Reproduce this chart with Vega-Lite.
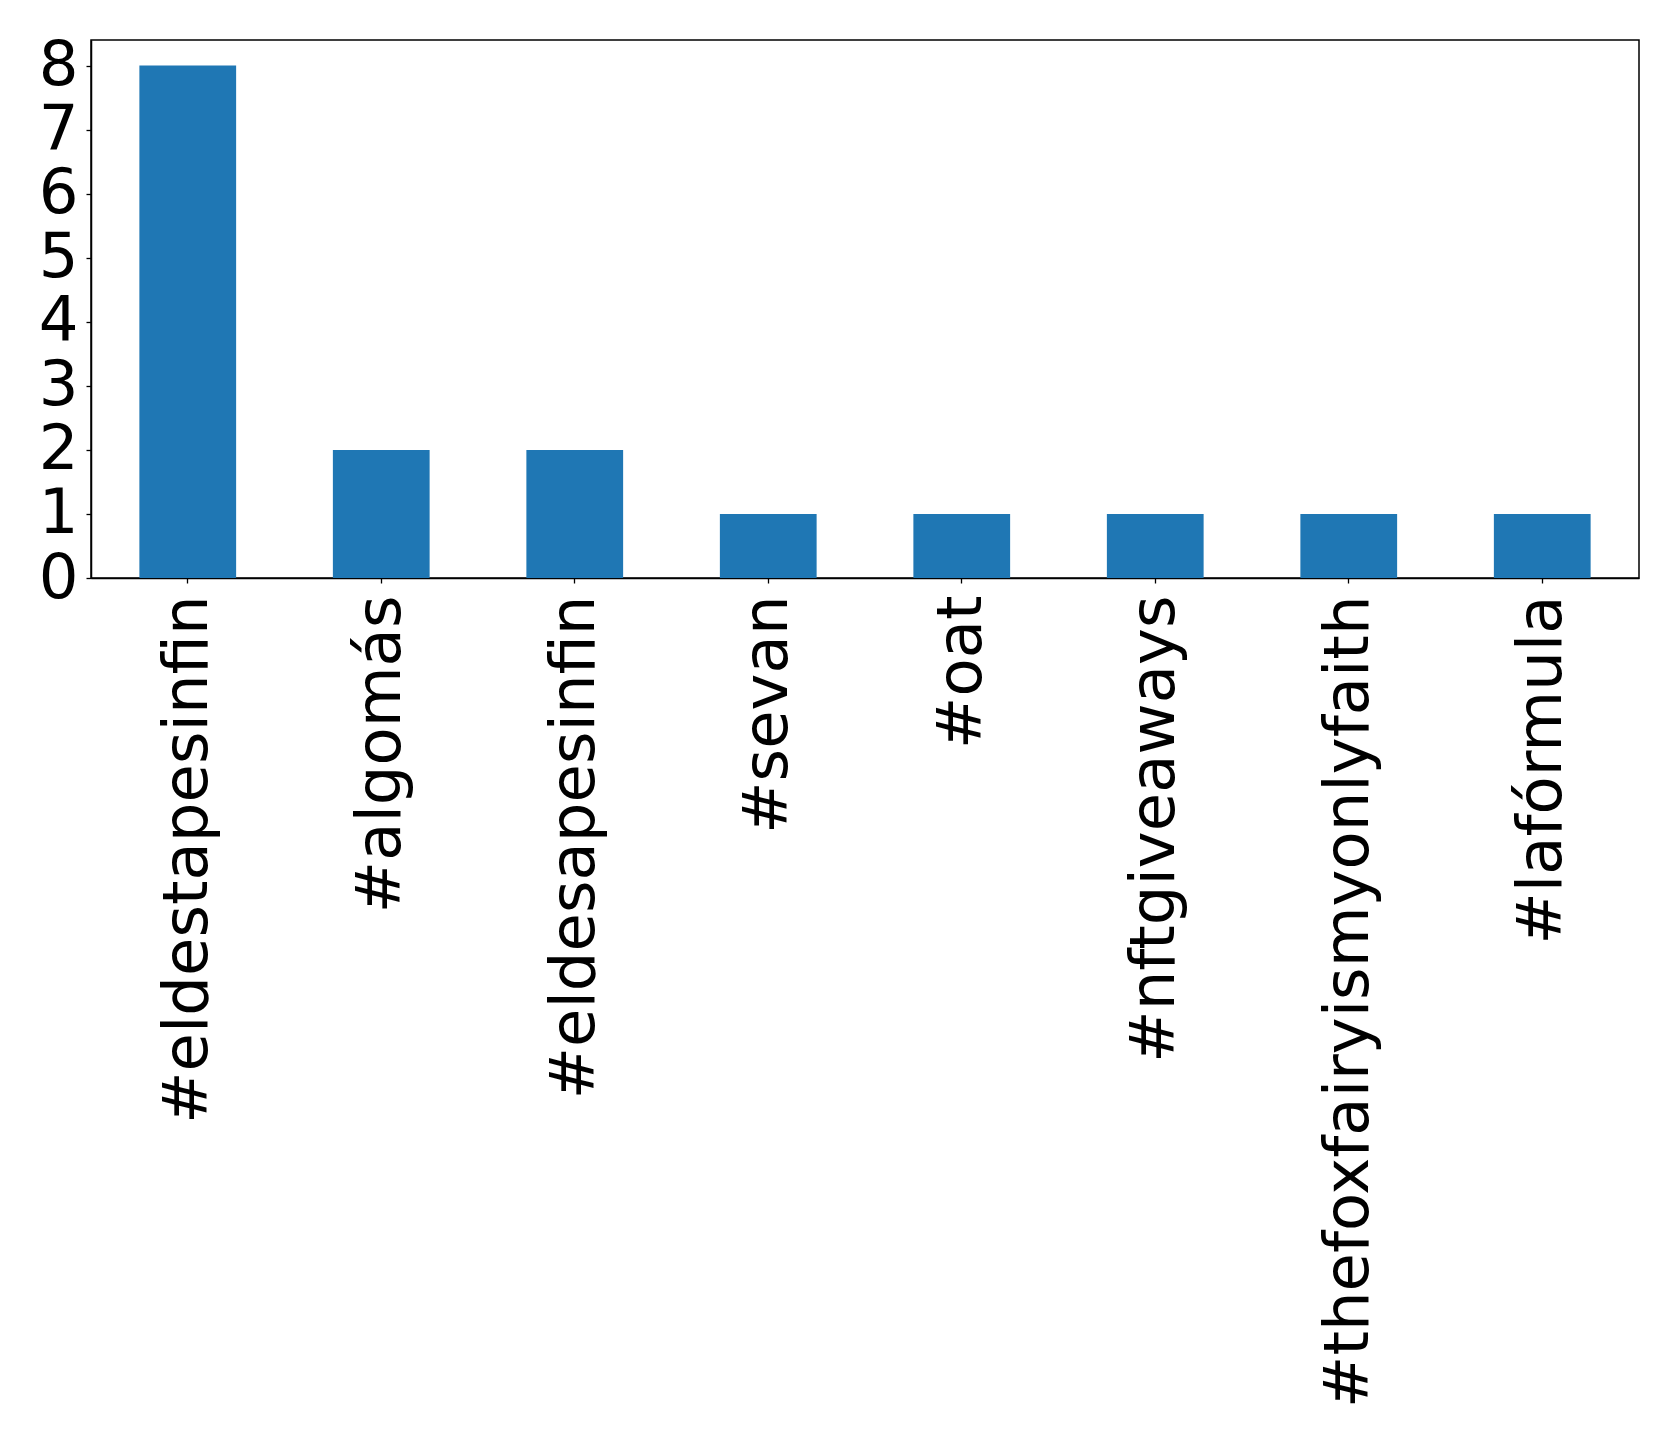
{
  "$schema": "https://vega.github.io/schema/vega-lite/v6.json",
  "autosize": {"type": "none"},
  "width": 1548,
  "height": 538,
  "padding": {"left": 91, "top": 40, "right": 40, "bottom": 862},
  "background": "white",
  "config": {
    "view": {"stroke": "black", "strokeWidth": 1.5},
    "axis": {"labelFont": "DejaVu Sans", "labelFontSize": 62.5, "labelColor": "black", "domainColor": "black", "tickColor": "black", "tickSize": 5, "tickWidth": 1.3, "domainWidth": 1.5, "grid": false, "title": null}
  },
  "data": {"values": [
    {"hashtag": "#eldestapesinfin", "count": 8},
    {"hashtag": "#algomás", "count": 2},
    {"hashtag": "#eldesapesinfin", "count": 2},
    {"hashtag": "#sevan", "count": 1},
    {"hashtag": "#oat", "count": 1},
    {"hashtag": "#nftgiveaways", "count": 1},
    {"hashtag": "#thefoxfairyismyonlyfaith", "count": 1},
    {"hashtag": "#lafórmula", "count": 1}
  ]},
  "mark": {"type": "bar", "color": "#1f77b4"},
  "encoding": {
    "x": {"field": "hashtag", "type": "nominal", "sort": null,
      "scale": {"paddingInner": 0.5, "paddingOuter": 0.25},
      "axis": {"labelAngle": -90, "labelAlign": "right", "labelBaseline": "middle", "labelPadding": 12, "labelLimit": 1000}},
    "y": {"field": "count", "type": "quantitative",
      "scale": {"domain": [0, 8.4], "nice": false},
      "axis": {"values": [0,1,2,3,4,5,6,7,8], "labelPadding": 8}}
  }
}
